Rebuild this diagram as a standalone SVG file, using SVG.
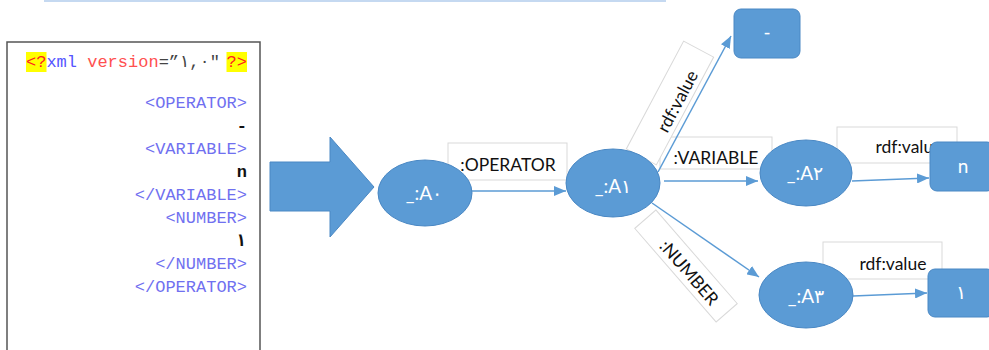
<svg xmlns="http://www.w3.org/2000/svg" width="989" height="350" viewBox="0 0 989 350">
<style>
.code{font-family:"Liberation Mono","DejaVu Sans Mono",monospace;font-size:17px;}
.tag{fill:#7070f0;}
.val{fill:#111;font-weight:bold;}
.node{fill:#5b9bd5;stroke:#4a88c4;stroke-width:1;}
.ntext{font-family:Lato,"Noto Sans",sans-serif;font-size:19px;fill:#ffffff;text-anchor:middle;}
.lbox{fill:#ffffff;stroke:#d9d9d9;stroke-width:1;}
.ltext{font-family:Lato,"Noto Sans",sans-serif;font-size:17.5px;fill:#111;text-anchor:middle;}
.edge{stroke:#5b9bd5;stroke-width:1.5;fill:none;marker-end:url(#ah);}
</style>
<defs>
<marker id="ah" markerUnits="userSpaceOnUse" markerWidth="12" markerHeight="10" refX="12" refY="5" orient="auto">
<path d="M0,0 L12,5 L0,10 z" fill="#5b9bd5"/>
</marker>
</defs>
<rect x="0" y="0" width="989" height="350" fill="#ffffff"/>
<rect x="44" y="0" width="622" height="2" fill="#c5d9f1"/>

<g id="code">
<rect x="7" y="42" width="253" height="320" fill="#ffffff" stroke="#555555" stroke-width="1.5"/>
<rect x="26" y="52" width="20.5" height="20" fill="#ffff00"/>
<rect x="226.5" y="52" width="20.5" height="20" fill="#ffff00"/>
<text class="code" x="26" y="67"><tspan fill="#ff2020">&lt;?</tspan><tspan fill="#5555ff">xml</tspan><tspan fill="#ff5050"> version</tspan><tspan fill="#444444">=”١,٠"</tspan></text>
<text class="code" x="247" y="67" text-anchor="end" fill="#ff2020">?&gt;</text>
<g class="code" text-anchor="end">
<text class="tag" x="247" y="108">&lt;OPERATOR&gt;</text>
<text class="val" x="247" y="131">-</text>
<text class="tag" x="247" y="154">&lt;VARIABLE&gt;</text>
<text class="val" x="247" y="177">n</text>
<text class="tag" x="247" y="200">&lt;/VARIABLE&gt;</text>
<text class="tag" x="247" y="223">&lt;NUMBER&gt;</text>
<text class="val" x="246" y="246">١</text>
<text class="tag" x="247" y="269">&lt;/NUMBER&gt;</text>
<text class="tag" x="247" y="292">&lt;/OPERATOR&gt;</text>
</g>
</g>

<g id="bigarrow">
<path d="M270,162 L330,162 L330,137 L374,187 L330,237 L330,211 L270,211 z" fill="#5b9bd5" stroke="#4a88c4" stroke-width="1"/>
</g>

<g id="labels">
<g id="lbl-operator">
<rect class="lbox" x="448" y="143" width="119" height="37"/>
<text class="ltext" x="508" y="171">:OPERATOR</text>
</g>
<g id="lbl-variable">
<rect class="lbox" x="660" y="137" width="112" height="32"/>
<text class="ltext" x="716" y="164">:VARIABLE</text>
</g>
<g id="lbl-value1" transform="translate(670,103) rotate(-62)">
<rect class="lbox" x="-61" y="-17" width="122" height="34"/>
<text class="ltext" x="5" y="12">rdf:value</text>
</g>
<g id="lbl-number" transform="translate(686,266) rotate(49)">
<rect class="lbox" x="-62" y="-14" width="124" height="28"/>
<text class="ltext" x="7" y="8">:NUMBER</text>
</g>
<g id="lbl-value2">
<rect class="lbox" x="837" y="127" width="120" height="36"/>
<text class="ltext" x="909" y="153">rdf:value</text>
</g>
<g id="lbl-value3">
<rect class="lbox" x="823" y="242" width="119" height="37"/>
<text class="ltext" x="893" y="270">rdf:value</text>
</g>
</g>

<g id="connectors">
<line class="edge" x1="472" y1="191" x2="566" y2="191"/>
<line class="edge" x1="658" y1="172" x2="731" y2="36"/>
<line class="edge" x1="664" y1="181" x2="758" y2="181"/>
<line class="edge" x1="652" y1="203" x2="759" y2="277"/>
<line class="edge" x1="852" y1="181" x2="929" y2="178"/>
<line class="edge" x1="853" y1="296" x2="927" y2="293"/>
</g>

<g id="A0">
<ellipse class="node" cx="425" cy="193" rx="47" ry="33"/>
<text class="ntext" x="424" y="200">_:A٠</text>
</g>
<g id="A1">
<ellipse class="node" cx="613" cy="183" rx="47" ry="34"/>
<text class="ntext" x="613" y="193">_:A١</text>
</g>
<g id="A2">
<ellipse class="node" cx="806" cy="173" rx="46" ry="33"/>
<text class="ntext" x="805" y="180">_:A٢</text>
</g>
<g id="A3">
<ellipse class="node" cx="806" cy="295" rx="47" ry="33"/>
<text class="ntext" x="806" y="303">_:A٣</text>
</g>
<g id="V-minus">
<rect class="node" x="734" y="9" width="66" height="49" rx="7"/>
<text class="ntext" x="767" y="39">-</text>
</g>
<g id="V-n">
<rect class="node" x="930" y="142" width="64" height="49" rx="7"/>
<text class="ntext" x="963" y="173">n</text>
</g>
<g id="V-1">
<rect class="node" x="928" y="269" width="66" height="48" rx="7"/>
<text class="ntext" x="961" y="299">١</text>
</g>
</svg>
